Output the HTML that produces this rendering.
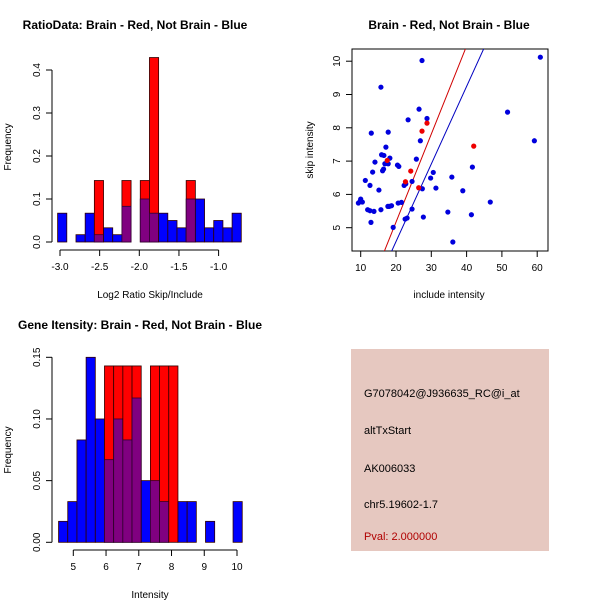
<!DOCTYPE html>
<html><head><meta charset="utf-8"><style>
body{margin:0;background:#fff}
svg{display:block;font-family:"Liberation Sans",sans-serif}
</style></head><body>
<svg id="c" width="600" height="600" viewBox="0 0 600 600">
<rect width="600" height="600" fill="#fff"/>
<g>
<rect x="351" y="349" width="198" height="202" fill="#e6c8c0"/>
<text x="364" y="397" font-size="11">G7078042@J936635_RC@i_at</text>
<text x="364" y="434" font-size="11">altTxStart</text>
<text x="364" y="472" font-size="11">AK006033</text>
<text x="364" y="508" font-size="11">chr5.19602-1.7</text>
<text x="364" y="540" font-size="11" fill="#b00000">Pval: 2.000000</text>
</g>
</svg>
<script>
// Ratio histogram
const ratioStart = -3.03, ratioBin = 0.1158;
const ratioBlue = [0.067,0,0.017,0.067,0.017,0.033,0.017,0.083,0,0.1,0.067,0.067,0.05,0.033,0.1,0.1,0.033,0.05,0.033,0.067];
const ratioRed  = [0,0,0,0,0.143,0,0,0.143,0,0.143,0.429,0,0,0,0.143,0,0,0,0,0];
const ratioXTicks = [-3.0,-2.5,-2.0,-1.5,-1.0];
const ratioXLabels = ["-3.0","-2.5","-2.0","-1.5","-1.0"];
const ratioYTicks = [0,0.1,0.2,0.3,0.4];
const ratioYLabels = ["0.0","0.1","0.2","0.3","0.4"];
// Intensity histogram
const intStart = 4.55, intBin = 0.2805;
const intBlue = [0.017,0.033,0.083,0.15,0.1,0.067,0.1,0.083,0.117,0.05,0.05,0.033,0,0.033,0.033,0,0.017,0,0,0.033];
const intRed  = [0,0,0,0,0,0.143,0.143,0.143,0.143,0,0.143,0.143,0.143,0,0,0,0,0,0,0];
const intXTicks = [5,6,7,8,9,10];
const intXLabels = ["5","6","7","8","9","10"];
const intYTicks = [0,0.05,0.1,0.15];
const intYLabels = ["0.00","0.05","0.10","0.15"];
// Scatter
const blueX = [9.34,10.0,10.47,9.81,11.31,11.97,12.63,12.63,12.91,13.0,13.38,13.76,14.04,15.16,15.73,15.73,15.92,16.2,16.48,16.57,16.85,17.14,17.79,17.79,17.7,18.08,18.26,18.73,19.2,20.42,20.8,20.61,21.55,22.3,22.58,22.77,23.15,23.43,24.55,24.55,25.77,26.53,26.9,27.37,27.46,27.75,28.78,29.81,30.56,31.31,34.69,35.82,36.1,38.92,41.36,41.64,46.71,51.6,59.2,60.89];
const blueY = [5.74,5.86,5.77,5.79,6.42,5.54,6.27,5.51,5.16,7.84,6.67,5.49,6.97,6.13,5.54,9.22,7.19,6.71,6.76,7.17,6.92,7.42,7.87,6.92,5.64,5.64,7.09,5.66,5.01,6.88,6.84,5.74,5.76,6.27,5.26,6.32,5.29,8.24,5.56,6.39,7.06,8.56,7.61,10.02,6.17,5.32,8.28,6.49,6.66,6.19,5.47,6.52,4.57,6.11,5.39,6.82,5.77,8.47,7.61,10.12];
const redX = [17.51,22.68,24.18,26.43,27.37,28.78,42.02];
const redY = [7.02,6.38,6.70,6.20,7.9,8.14,7.45];
const redLine = [-0.123, 0.2645];
const blueLine = [-0.077, 0.233];
const scXTicks = [10,20,30,40,50,60];
const scYTicks = [5,6,7,8,9,10];

const svg = document.getElementById('c');
const NS = 'http://www.w3.org/2000/svg';
function mk(tag, attrs, parent){const e=document.createElementNS(NS,tag);for(const k in attrs)e.setAttribute(k,attrs[k]);(parent||svg).appendChild(e);return e;}
function txt(x,y,s,size,extra,parent){const t=mk('text',Object.assign({x:x,y:y,'font-size':size,'text-anchor':'middle'},extra||{}),parent);t.textContent=s;return t;}

function axes(g, sx, sy, xt, xl, yt, yl, xAxisY, yAxisX){
  const xa=mk('g',{},g);
  
  
  mk('line',{x1:sx(xt[0]),x2:sx(xt[xt.length-1]),y1:xAxisY,y2:xAxisY,stroke:'#000'},xa);
  xt.forEach((v,i)=>{mk('line',{x1:sx(v),x2:sx(v),y1:xAxisY,y2:xAxisY+6,stroke:'#000'},xa);
    const t=txt(sx(v),xAxisY+20,xl[i],10,{},xa);
    
    });
  const ya=mk('g',{},g);
  
  
  mk('line',{x1:yAxisX,x2:yAxisX,y1:sy(yt[0]),y2:sy(yt[yt.length-1]),stroke:'#000'},ya);
  yt.forEach((v,i)=>{mk('line',{x1:yAxisX-6,x2:yAxisX,y1:sy(v),y2:sy(v),stroke:'#000'},ya);
    const t=txt(0,0,yl[i],10,{transform:`translate(${yAxisX-12},${sy(v)}) rotate(-90)`},ya);
    
    });
}

function hist(name, start, bw, blue, red, sx, sy, g){
  blue.forEach((b,i)=>{
    const r=red[i]; const x0=sx(start+i*bw), x1=sx(start+(i+1)*bw);
    const hi=Math.max(b,r); if(hi<=0) return;
    const col = r>b ? '#ff0000' : '#0000ff';
    const bar=mk('rect',{x:x0,y:sy(hi),width:x1-x0,height:sy(0)-sy(hi),fill:col,stroke:'#300000','stroke-width':0.8},g);
    
    
    const lo=Math.min(b,r);
    if(lo>0){const p=mk('rect',{x:x0,y:sy(lo),width:x1-x0,height:sy(0)-sy(lo),fill:'#800080',stroke:'#300030','stroke-width':0.8},g);
      
      }
  });
}

// Panel 1
{
  const g=mk('g',{});
  
  
  const sx=v=>139.3+(v+2.0)*79.3, sy=v=>242-v*430;
  hist('ratio',ratioStart,ratioBin,ratioBlue,ratioRed,sx,sy,g);
  axes(g,sx,sy,ratioXTicks,ratioXLabels,ratioYTicks,ratioYLabels,250,52);
  const t=txt(135,29,'RatioData: Brain - Red, Not Brain - Blue',12,{'font-weight':'bold'},g);
  
  
  const xl=txt(150,298,'Log2 Ratio Skip/Include',10,{},g);
  
  
  const yl=txt(0,0,'Frequency',10,{transform:'translate(11,147) rotate(-90)'},g);
  
  
}
// Panel 3
{
  const g=mk('g',{});
  
  
  const sx=v=>73.3+(v-5)*32.74, sy=v=>542.3-v*1233.3;
  hist('intensity',intStart,intBin,intBlue,intRed,sx,sy,g);
  axes(g,sx,sy,intXTicks,intXLabels,intYTicks,intYLabels,550,52);
  const t=txt(140,329,'Gene Itensity: Brain - Red, Not Brain - Blue',12,{'font-weight':'bold'},g);
  
  
  const xl=txt(150,598,'Intensity',10,{},g);
  
  
  const yl=txt(0,0,'Frequency',10,{transform:'translate(11,450) rotate(-90)'},g);
  
  
}
// Panel 2
{
  const g=mk('g',{});
  
  
  const sx=v=>360.7+(v-10)*3.53, sy=v=>227.7-(v-5)*33.3;
  const L=352,R=548,T=49,B=251;
  mk('clipPath',{id:'clp'},g).appendChild(Object.assign(document.createElementNS(NS,'rect'),{}));
  const cr=document.querySelector('#clp rect');cr.setAttribute('x',L);cr.setAttribute('y',T);cr.setAttribute('width',R-L);cr.setAttribute('height',B-T);
  const box=mk('rect',{x:L,y:T,width:R-L,height:B-T,fill:'none',stroke:'#000'},g);
  
  
  axes(g,sx,sy,scXTicks,scXTicks.map(String),scYTicks,scYTicks.map(String),B,L);
  [[redLine,'#d00000','red-fit-line'],[blueLine,'#0000c0','blue-fit-line']].forEach(([ln,c,n])=>{
    const l=mk('line',{x1:sx(0),y1:sy(ln[0]),x2:sx(70),y2:sy(ln[0]+ln[1]*70),stroke:c,'clip-path':'url(#clp)'},g);
    
    
  });
  blueX.forEach((x,i)=>{const p=mk('circle',{cx:sx(x),cy:sy(blueY[i]),r:2.6,fill:'#0000dd'},g);
    
    });
  redX.forEach((x,i)=>{const p=mk('circle',{cx:sx(x),cy:sy(redY[i]),r:2.6,fill:'#ee0000'},g);
    
    });
  const t=txt(449,29,'Brain - Red, Not Brain - Blue',12,{'font-weight':'bold'},g);
  
  
  const xl=txt(449,298,'include intensity',10,{},g);
  
  
  const yl=txt(0,0,'skip intensity',10,{transform:'translate(313,150) rotate(-90)'},g);
  
  
}
</script>
</body></html>
